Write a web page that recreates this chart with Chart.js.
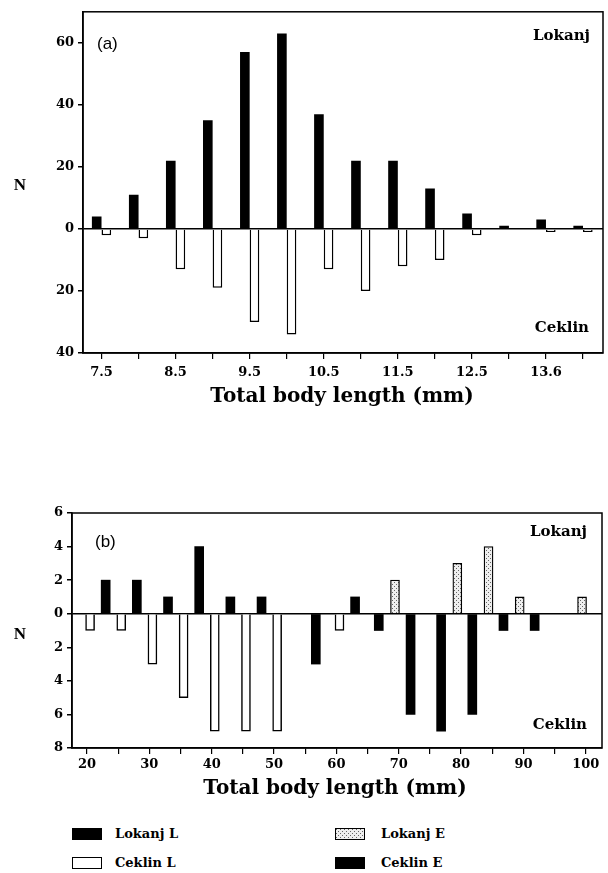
<!DOCTYPE html>
<html>
<head>
<meta charset="utf-8">
<script src="https://cdn.jsdelivr.net/npm/chart.js@4.4.0/dist/chart.umd.min.js"></script>
<style>
    body { margin: 0; background: #fff; width: 608px; height: 873px; position: relative; overflow: hidden; }
    #wrapA { position: absolute; left: 0; top: 0; width: 608px; height: 410px; }
    #wrapB { position: absolute; left: 0; top: 460px; width: 608px; height: 350px; }
    .sw { position: absolute; width: 30px; height: 12px; box-sizing: border-box; }
    .lt { position: absolute; font: bold 13px 'DejaVu Serif', serif; color: #000; line-height: 14px; }
</style>
</head>
<body>
<div id="wrapA"><canvas id="chartA"></canvas></div>
<div id="wrapB"><canvas id="chartB"></canvas></div>

<!-- legend -->
<div class="sw" style="left:72px;top:828px;background:#000;"></div>
<div class="lt" style="left:115px;top:827px;">Lokanj L</div>
<div class="sw" style="left:72px;top:857px;background:#fff;border:1.5px solid #000;"></div>
<div class="lt" style="left:115px;top:856px;">Ceklin L</div>
<div class="sw" id="swLokE" style="left:335px;top:828px;border:1.5px solid #000;"></div>
<div class="lt" style="left:381px;top:827px;">Lokanj E</div>
<div class="sw" style="left:335px;top:857px;background:#000;"></div>
<div class="lt" style="left:381px;top:856px;">Ceklin E</div>

<script>
// --- data, panel (a) ---
const binsA = [7.5, 8, 8.5, 9, 9.5, 10, 10.5, 11, 11.5, 12, 12.5, 13, 13.5, 14];
const lokanjA = [4, 11, 22, 35, 57, 63, 37, 22, 22, 13, 5, 1, 3, 1];
const ceklinA = [2, 3, 13, 19, 30, 34, 13, 20, 12, 10, 2, 0, 1, 1];
const xTicksA = [7.5, 8, 8.5, 9, 9.5, 10, 10.5, 11, 11.5, 12, 12.5, 13, 13.5, 14];
const xLabelsA = ['7.5', '', '8.5', '', '9.5', '', '10.5', '', '11.5', '', '12.5', '', '13.6', ''];
const yTicksA = [-40, -20, 0, 20, 40, 60];

// --- data, panel (b) ---
const lokanjLx = [23, 28, 33, 38, 43, 48, 63];
const lokanjLn = [2, 2, 1, 4, 1, 1, 1];
const ceklinLx = [20.5, 25.5, 30.5, 35.5, 40.5, 45.5, 50.5, 60.5];
const ceklinLn = [1, 1, 3, 5, 7, 7, 7, 1];
const lokanjEx = [69.4, 79.4, 84.4, 89.4, 99.4];
const lokanjEn = [2, 3, 4, 1, 1];
const ceklinEx = [56.7, 66.8, 71.9, 76.8, 81.8, 86.8, 91.8];
const ceklinEn = [3, 1, 6, 7, 6, 1, 1];
const xTicksB = [20, 25, 30, 35, 40, 45, 50, 55, 60, 65, 70, 75, 80, 85, 90, 95, 100];
const xLabelsB = ['20', '', '30', '', '40', '', '50', '', '60', '', '70', '', '80', '', '90', '', '100'];
const yTicksB = [-8, -6, -4, -2, 0, 2, 4, 6];

const tickFont = { family: "'DejaVu Serif', serif", weight: 'bold', size: 13 };
const titleFont = "bold 20px 'DejaVu Serif', serif";
const nFont = "bold 17px 'Liberation Serif', serif";
const siteFont = "bold 15px 'DejaVu Serif', serif";
const panelFont = "17px 'Liberation Sans', sans-serif";

// stippled fill used for Lokanj E
function makeDots() {
    const c = document.createElement('canvas');
    c.width = 4; c.height = 4;
    const g = c.getContext('2d');
    g.fillStyle = '#eeeeee'; g.fillRect(0, 0, 4, 4);
    g.fillStyle = '#666666'; g.fillRect(0, 0, 1, 1); g.fillRect(2, 2, 1, 1);
    return c;
}
const dotCanvas = makeDots();
document.getElementById('swLokE').style.backgroundImage = 'url(' + dotCanvas.toDataURL() + ')';

// box round the plot + free texts
const frameAndText = {
    id: 'frameAndText',
    afterDraw(chart, args, opts) {
        const ctx = chart.ctx;
        const a = chart.chartArea;
        ctx.save();
        ctx.strokeStyle = '#000';
        ctx.lineWidth = 1.5;
        ctx.strokeRect(a.left, a.top, a.right - a.left, a.bottom - a.top);
        ctx.fillStyle = '#000';
        ctx.textBaseline = 'middle';
        (opts.texts || []).forEach(t => {
            ctx.font = t.font;
            ctx.textAlign = t.align || 'left';
            ctx.fillText(t.text, t.x(a), t.y(a));
        });
        ctx.restore();
    }
};

function pts(xs, ns, sign) {
    return xs.map((x, i) => ({ x: x, y: sign * ns[i] }));
}

function axes(xmin, xmax, xTicks, xLabels, ymin, ymax, yTicks, yWidth, xHeight, xPad) {
    return {
        x: {
            type: 'linear', min: xmin, max: xmax, offset: false,
            afterBuildTicks: s => { s.ticks = xTicks.map(v => ({ value: v })); },
            afterFit: s => { s.height = xHeight; },
            ticks: {
                autoSkip: false, maxRotation: 0, color: '#000', font: tickFont, padding: xPad,
                callback: (v) => xLabels[xTicks.indexOf(v)]
            },
            grid: { offset: false, drawOnChartArea: false, color: '#000', tickLength: 6, lineWidth: 1.2 },
            border: { color: '#000', width: 1.5 }
        },
        y: {
            min: ymin, max: ymax,
            afterBuildTicks: s => { s.ticks = yTicks.map(v => ({ value: v })); },
            afterFit: s => { s.width = yWidth; },
            ticks: { color: '#000', font: tickFont, padding: 4, callback: v => Math.abs(v) },
            grid: {
                color: c => (c.tick && c.tick.value === 0) ? '#000' : 'rgba(0,0,0,0)',
                tickColor: '#000', tickLength: 5, lineWidth: 1.5
            },
            border: { color: '#000', width: 1.5 }
        }
    };
}

document.addEventListener('DOMContentLoaded', function () {
    Chart.defaults.animation = false;

    // --- panel (a) ---
    new Chart(document.getElementById('chartA'), {
        type: 'bar',
        data: {
            datasets: [
                { label: 'Lokanj L', data: pts(binsA, lokanjA, 1), backgroundColor: '#000', borderColor: '#000', borderWidth: 0 },
                { label: 'Ceklin L', data: pts(binsA, ceklinA, -1), backgroundColor: '#fff', borderColor: '#000', borderWidth: 1.5 }
            ]
        },
        options: {
            responsive: true,
            maintainAspectRatio: false,
            categoryPercentage: 0.52,
            barPercentage: 1.0,
            layout: { padding: { top: 9, right: 5, left: 0, bottom: 0 } },
            scales: axes(7.25, 14.27, xTicksA, xLabelsA, -40, 70, yTicksA, 83, 57, 6),
            plugins: {
                legend: { display: false },
                tooltip: { enabled: false },
                frameAndText: {
                    texts: [
                        { text: '(a)', font: panelFont, x: a => a.left + 14, y: a => a.top + 33 },
                        { text: 'Lokanj', font: siteFont, align: 'right', x: a => a.right - 13, y: a => a.top + 24 },
                        { text: 'Ceklin', font: siteFont, align: 'right', x: a => a.right - 14, y: a => a.bottom - 25 },
                        { text: 'N', font: nFont, align: 'center', x: a => 20, y: a => 186 },
                        { text: 'Total body length (mm)', font: titleFont, align: 'center', x: a => 342, y: a => a.bottom + 44 }
                    ]
                }
            }
        },
        plugins: [frameAndText]
    });

    // --- panel (b) ---
    const ctxB = document.getElementById('chartB').getContext('2d');
    const dots = ctxB.createPattern(dotCanvas, 'repeat');
    const barB = { barThickness: 9, grouped: false, borderColor: '#000' };

    new Chart(ctxB, {
        type: 'bar',
        data: {
            datasets: [
                Object.assign({ label: 'Lokanj L', data: pts(lokanjLx, lokanjLn, 1), backgroundColor: '#000', borderWidth: 0 }, barB),
                Object.assign({ label: 'Ceklin L', data: pts(ceklinLx, ceklinLn, -1), backgroundColor: '#fff', borderWidth: 1.5 }, barB),
                Object.assign({ label: 'Lokanj E', data: pts(lokanjEx, lokanjEn, 1), backgroundColor: dots, borderWidth: 1.3 }, barB),
                Object.assign({ label: 'Ceklin E', data: pts(ceklinEx, ceklinEn, -1), backgroundColor: '#000', borderWidth: 0 }, barB)
            ]
        },
        options: {
            responsive: true,
            maintainAspectRatio: false,
            layout: { padding: { top: 53, right: 6, left: 0, bottom: 0 } },
            scales: axes(17.6, 102.6, xTicksB, xLabelsB, -8, 6, yTicksB, 72, 62, 3),
            plugins: {
                legend: { display: false },
                tooltip: { enabled: false },
                frameAndText: {
                    texts: [
                        { text: '(b)', font: panelFont, x: a => a.left + 23, y: a => a.top + 29 },
                        { text: 'Lokanj', font: siteFont, align: 'right', x: a => a.right - 15, y: a => a.top + 19 },
                        { text: 'Ceklin', font: siteFont, align: 'right', x: a => a.right - 15, y: a => a.bottom - 23 },
                        { text: 'N', font: nFont, align: 'center', x: a => 20, y: a => 175 },
                        { text: 'Total body length (mm)', font: titleFont, align: 'center', x: a => 335, y: a => a.bottom + 41 }
                    ]
                }
            }
        },
        plugins: [frameAndText]
    });
});
</script>
</body>
</html>
